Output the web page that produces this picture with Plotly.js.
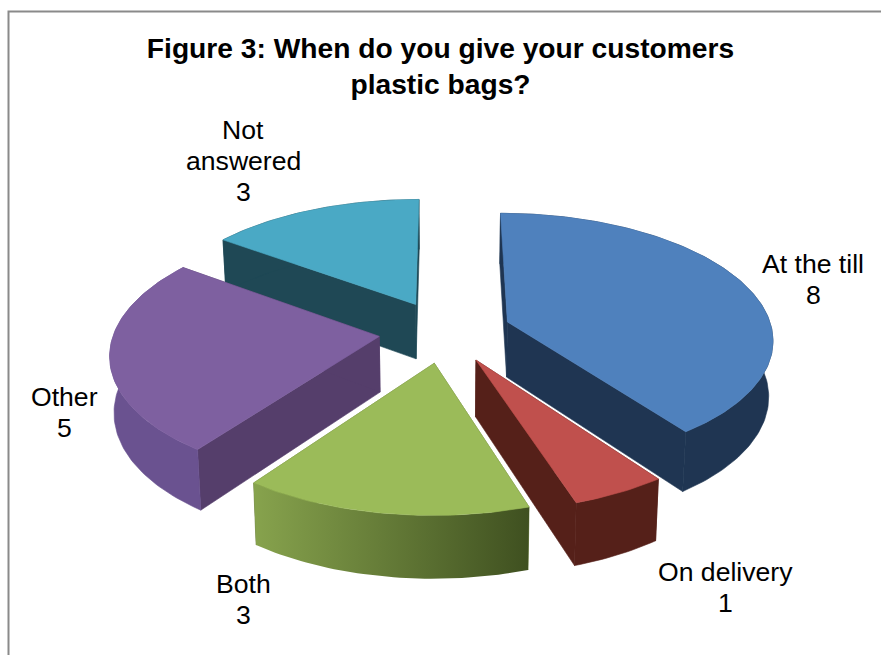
<!DOCTYPE html>
<html>
<head>
<meta charset="utf-8">
<script src="https://cdn.plot.ly/plotly-3.0.1.min.js"></script>
<style>html,body{margin:0;padding:0;background:#fff}#chart{width:881px;height:655px}</style>
</head>
<body>
<div id="chart"></div>
<script>
// Survey responses
const categories = ["At the till", "On delivery", "Both", "Other", "Not answered"];
const responses = [8, 1, 3, 5, 3];

// Face colours per slice
const topColours = ["#4f81bd", "#c0504d", "#9bbb59", "#7e60a0", "#4aa9c5"];
const sideColours = ["#1f3552", "#552019", "#5f7430", "#553e6b", "#1f4855"];
const rimStart = ["#1f3552", "#552019", "#87a34d", "#6a5290", "#1f4855"];
const rimEnd = ["#1f3552", "#552019", "#3f5020", "#6a5290", "#1f4855"];

// Label centres: [x, y of first line]
const labelCentres = [[813, 264], [725, 572], [243, 584], [64, 397], [243, 130]];
const labelLineGap = 31;

// Projection of the exploded, tilted pie
const centreX = 445, centreY = 331.5;
const radiusX = 265, radiusY = 124.5, perspective = 0.125;
const explode = 0.25, thickness = 55.5, floorScale = 0.987;

function project(gx, gy, floor) {
  const s = 1 / (1 - perspective * gy);
  const dx = radiusX * gx * s, dy = radiusY * gy * s;
  if (!floor) return [centreX + dx, centreY + dy];
  return [centreX + dx * floorScale, centreY + dy * floorScale + thickness * s];
}

const total = responses.reduce((a, b) => a + b, 0);
const traces = [];

function polygon(points, fillcolor, gradient) {
  const t = {
    type: "scatter", mode: "lines", hoverinfo: "skip", showlegend: false,
    x: points.map(p => p[0]), y: points.map(p => p[1]),
    fill: "toself", fillcolor: fillcolor,
    line: {color: fillcolor, width: 0.6}
  };
  if (gradient) {
    t.fillgradient = {type: "horizontal", colorscale: [[0, gradient[0]], [1, gradient[1]]]};
    t.line = {width: 0};
  }
  traces.push(t);
}

// Slice geometry derived from the response counts
let running = 0;
const slices = responses.map((v, i) => {
  const a0 = running / total * 2 * Math.PI;
  running += v;
  const a1 = running / total * 2 * Math.PI;
  const mid = (a0 + a1) / 2;
  return {i, a0, a1, ox: explode * Math.sin(mid), oy: -explode * Math.cos(mid)};
});

// Painter's order: farthest slices first
[4, 0, 3, 2, 1].forEach(k => {
  const {i, a0, a1, ox, oy} = slices[k];
  const rim = (floor) => {
    const pts = [];
    const steps = Math.max(8, Math.round((a1 - a0) / 0.02));
    for (let j = 0; j <= steps; j++) {
      const a = a0 + (a1 - a0) * j / steps;
      pts.push(project(ox + Math.sin(a), oy - Math.cos(a), floor));
    }
    return pts;
  };
  const apexTop = project(ox, oy, false), apexFloor = project(ox, oy, true);
  const topRim = rim(false), floorRim = rim(true);
  // radial walls
  polygon([apexTop, topRim[0], floorRim[0], apexFloor, apexTop], sideColours[i]);
  polygon([apexTop, topRim[topRim.length - 1], floorRim[floorRim.length - 1], apexFloor, apexTop], sideColours[i]);
  // curved outer wall
  const rimPts = topRim.concat(floorRim.slice().reverse());
  rimPts.push(topRim[0]);
  polygon(rimPts, rimStart[i], rimStart[i] !== rimEnd[i] ? [rimStart[i], rimEnd[i]] : null);
  // top face
  polygon([apexTop].concat(topRim, [apexTop]), topColours[i]);
});

const annotations = [];
categories.forEach((name, i) => {
  const parts = name === "Not answered" ? ["Not", "answered"] : [name];
  parts.concat(String(responses[i])).forEach((line, j) => {
    annotations.push({
      text: line, x: labelCentres[i][0], y: labelCentres[i][1] + j * labelLineGap,
      xref: "x", yref: "y", xanchor: "center", yanchor: "middle", showarrow: false,
      font: {family: "Liberation Sans, Arial, sans-serif", size: 26.6, color: "#000"}
    });
  });
});

const layout = {
  width: 881, height: 655,
  margin: {l: 0, r: 0, t: 0, b: 0},
  paper_bgcolor: "#fff", plot_bgcolor: "#fff",
  showlegend: false,
  title: {
    text: "<b>Figure 3: When do you give your customers<br>plastic bags?</b>",
    x: 0.5, xanchor: "center", y: 0.912, yanchor: "middle",
    font: {family: "Liberation Sans, Arial, sans-serif", size: 28.2, color: "#000"}
  },
  xaxis: {range: [0, 881], visible: false, fixedrange: true},
  yaxis: {range: [655, 0], visible: false, fixedrange: true},
  annotations: annotations,
  shapes: [{
    type: "rect", xref: "paper", yref: "paper", layer: "below",
    x0: 8.5 / 881, x1: 1.05, y0: -0.05, y1: 1 - 11.5 / 655,
    line: {color: "#8a8a8a", width: 2}, fillcolor: "rgba(0,0,0,0)"
  }]
};

Plotly.newPlot("chart", traces, layout, {displayModeBar: false, staticPlot: true});
</script>
</body>
</html>
